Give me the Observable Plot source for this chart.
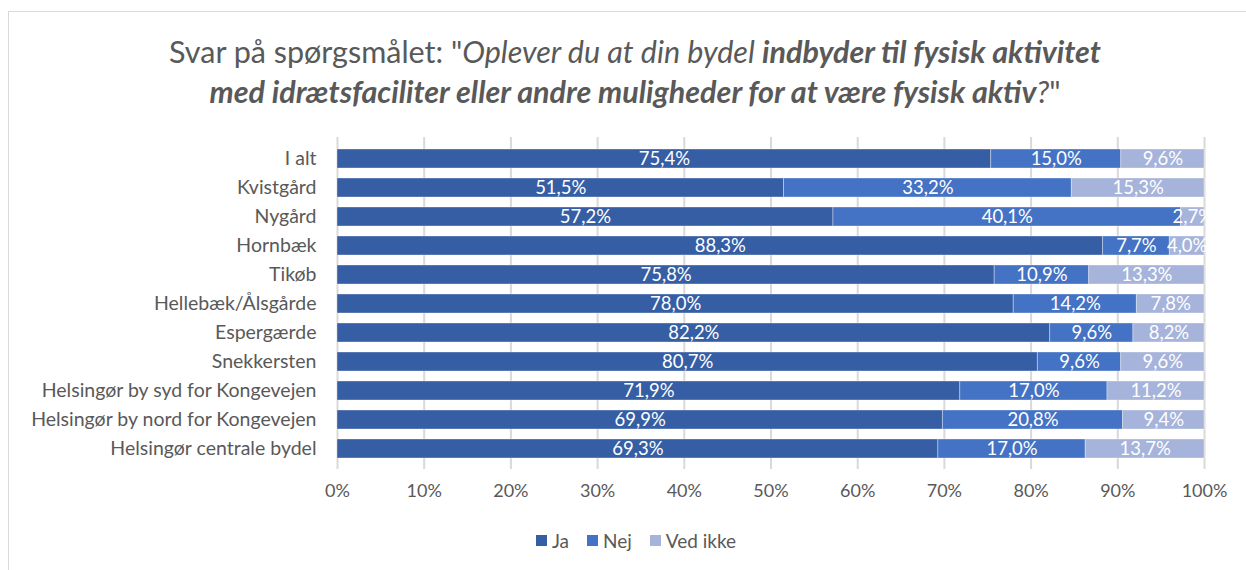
<!DOCTYPE html>
<html>
<head>
<meta charset="utf-8">
<script src="https://cdn.jsdelivr.net/npm/d3@7"></script>
<script src="https://cdn.jsdelivr.net/npm/@observablehq/plot@0.6"></script>
<style>
  html, body { margin: 0; padding: 0; background: #fff; }
  body { width: 1246px; height: 570px; position: relative; overflow: hidden; font-family: Lato, "Open Sans", sans-serif; color: #595959; }
  #frame { position: absolute; left: 8px; top: 11px; width: 1300px; height: 700px; border-left: 1.5px solid #d9d9d9; border-top: 1.5px solid #d9d9d9; }
  #title { position: absolute; left: 0; width: 1270px; top: 31px; text-align: center; font-size: 30.5px; line-height: 40px; color: #595959; }
  #chart { position: absolute; left: 0; top: 126px; }
  #legend { position: absolute; left: 0; width: 1272px; top: 527px; text-align: center; font-size: 19px; color: #595959; }
  #legend span.item { display: inline-flex; align-items: center; margin: 0 9px; }
  #legend span.sw { display: inline-block; width: 11px; height: 11px; margin-right: 5px; }
</style>
</head>
<body>
<div id="frame"></div>
<div id="title">Svar på spørgsmålet: "<i>Oplever du at din bydel <b>indbyder til fysisk aktivitet</b></i><br><i><b>med idrætsfaciliter eller andre muligheder for at være fysisk aktiv</b>?</i>"</div>
<div id="chart"></div>
<div id="legend"></div>
<script>
const categories = ["I alt", "Kvistgård", "Nygård", "Hornbæk", "Tikøb", "Hellebæk/Ålsgårde", "Espergærde", "Snekkersten", "Helsingør by syd for Kongevejen", "Helsingør by nord for Kongevejen", "Helsingør centrale bydel"];
const series = ["Ja", "Nej", "Ved ikke"];
const ja      = [75.4, 51.5, 57.2, 88.3, 75.8, 78.0, 82.2, 80.7, 71.9, 69.9, 69.3];
const nej     = [15.0, 33.2, 40.1, 7.7, 10.9, 14.2, 9.6, 9.6, 17.0, 20.8, 17.0];
const vedIkke = [9.6, 15.3, 2.7, 4.0, 13.3, 7.8, 8.2, 9.6, 11.2, 9.4, 13.7];
const colors = ["#365ea5", "#4472c4", "#a6b3da"];
const xTicks = [0, 0.1, 0.2, 0.3, 0.4, 0.5, 0.6, 0.7, 0.8, 0.9, 1];

const values = [ja, nej, vedIkke];
const data = [];
categories.forEach((c, i) => series.forEach((s, j) => data.push({cat: c, series: s, value: values[j][i]})));

const fmt = v => v.toFixed(1).replace(".", ",") + "%";
const stackOpts = {x: "value", y: "cat", z: "series", order: series, offset: "normalize"};

const plot = Plot.plot({
  width: 1246,
  height: 400,
  marginLeft: 337,
  marginRight: 42,
  marginTop: 11,
  marginBottom: 57,
  style: {fontFamily: "Lato, 'Open Sans', sans-serif", fontSize: "18px", color: "#595959", background: "transparent", overflow: "visible"},
  x: {domain: [0, 1], ticks: xTicks, tickFormat: d => Math.round(d * 100) + "%", label: null, tickSize: 0, tickPadding: 15, grid: true},
  y: {domain: categories, label: null, padding: 0.35, tickSize: 0, tickPadding: 21},
  color: {domain: series, range: colors},
  marks: [
    Plot.gridX(xTicks, {stroke: "#d9d9d9", strokeOpacity: 1, strokeWidth: 2}),
    Plot.barX(data, Plot.stackX({...stackOpts, fill: "series", stroke: "#ffffff", strokeOpacity: 0.35, strokeWidth: 1})),
    Plot.text(data, Plot.stackX({...stackOpts, text: d => fmt(d.value), fill: "white", fontSize: 18.5})),
    Plot.axisX({ticks: xTicks, tickFormat: d => Math.round(d * 100) + "%", tickSize: 0, tickPadding: 15, fill: "#595959", fontSize: 18}),
    Plot.axisY({tickSize: 0, tickPadding: 21, fill: "#595959", fontSize: 19.5})
  ]
});
document.getElementById("chart").appendChild(plot);

const legend = document.getElementById("legend");
series.forEach((s, i) => {
  const item = document.createElement("span");
  item.className = "item";
  const sw = document.createElement("span");
  sw.className = "sw";
  sw.style.background = colors[i];
  item.appendChild(sw);
  item.appendChild(document.createTextNode(s));
  legend.appendChild(item);
});
</script>
</body>
</html>
